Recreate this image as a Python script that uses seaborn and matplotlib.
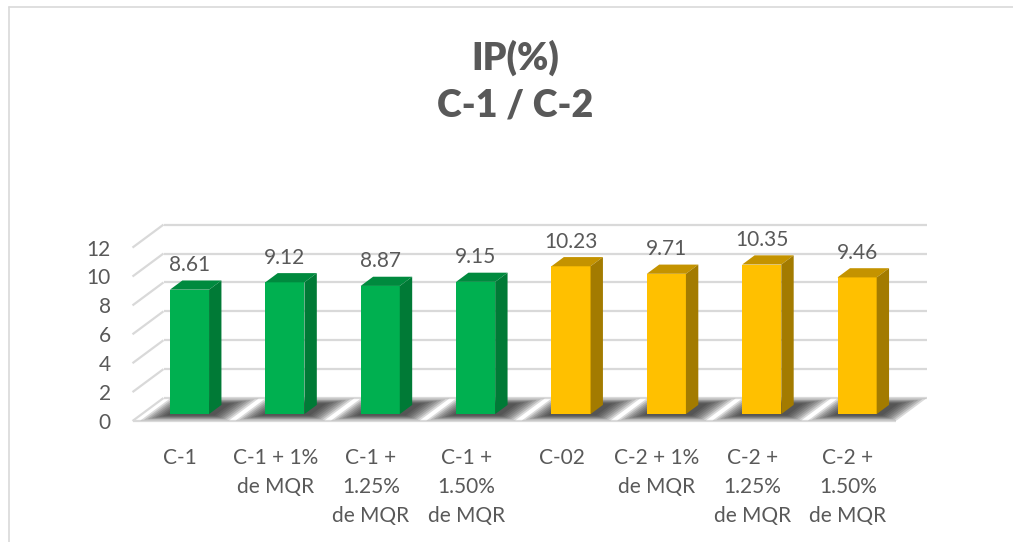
import matplotlib
matplotlib.use("Agg")
import matplotlib.pyplot as plt
from matplotlib.patches import Polygon
from matplotlib.lines import Line2D
import seaborn as sns
import pandas as pd

# Data
categories = ["C-1", "C-1 + 1%\nde MQR", "C-1 +\n1.25%\nde MQR", "C-1 +\n1.50%\nde MQR",
              "C-02", "C-2 + 1%\nde MQR", "C-2 +\n1.25%\nde MQR", "C-2 +\n1.50%\nde MQR"]
values = [8.61, 9.12, 8.87, 9.15, 10.23, 9.71, 10.35, 9.46]
groups = ["C-1", "C-1", "C-1", "C-1", "C-2", "C-2", "C-2", "C-2"]
y_ticks = [0, 2, 4, 6, 8, 10, 12]
title = "IP(%)\nC-1 / C-2"

# Face colours: front, top, side
front = {"C-1": "#00B050", "C-2": "#FFC000"}
top = {"C-1": "#008A3E", "C-2": "#C49300"}
side = {"C-1": "#007A36", "C-2": "#A37B00"}
text_col = "#595959"
grid_col = "#D9D9D9"

sns.set_theme(style="white")
plt.rcParams["font.family"] = ["Lato", "DejaVu Sans"]

W, H = 1013, 542
fig = plt.figure(figsize=(W / 100, H / 100), dpi=100)
fig.patch.set_facecolor("white")

# Axes spans the front plane of the floor
x0_px, x1_px = 132.5, 895.5
y0_px, ppu = 421.0, 14.45
ax = fig.add_axes([x0_px / W, (H - y0_px) / H, (x1_px - x0_px) / W, 12 * ppu / H])
ax.set_xlim(-0.5, 7.5)
ax.set_ylim(0, 12)
ax.set_facecolor("none")
for s in ax.spines.values():
    s.set_visible(False)

# Oblique depth (full floor depth) in data units
cat_px = (x1_px - x0_px) / 8
DX = 31.0 / cat_px
DY = 23.0 / ppu
D0, D1 = 0.3, 0.7  # bar depth range

# Back wall and side wall gridlines
for v in y_ticks:
    ax.plot([-0.5 + DX, 7.5 + DX], [v + DY, v + DY], color=grid_col, lw=1.6,
            clip_on=False, zorder=0, solid_capstyle="butt")
    ax.plot([-0.5, -0.5 + DX], [v, v + DY], color=grid_col, lw=1.6,
            clip_on=False, zorder=0, solid_capstyle="butt")
# Front edge of the floor
ax.plot([-0.5, 7.5], [0, 0], color=grid_col, lw=1.6, clip_on=False, zorder=0,
        solid_capstyle="butt")

df = pd.DataFrame({"cat": categories, "val": values, "grp": groups})
sns.barplot(data=df, x="cat", y="val", hue="grp", palette=front, order=categories,
            dodge=False, width=0.41, saturation=1, legend=False, linewidth=0, ax=ax)

grp_of = dict(zip(categories, groups))
for p in list(ax.patches):
    h = p.get_height()
    if h <= 0:
        continue
    bx0 = p.get_x() + D0 * DX
    bx1 = bx0 + p.get_width()
    by0 = D0 * DY
    by1 = by0 + h
    p.set_x(bx0)
    p.set_y(by0)
    p.set_zorder(3)
    ci = int(round(p.get_x() - D0 * DX + p.get_width() / 2))
    g = grp_of[categories[ci]]
    ddx, ddy = (D1 - D0) * DX, (D1 - D0) * DY

    # soft floor shadow under the bar
    n = 8
    for k in range(n):
        t = k / (n - 1)
        ex_l = 0.22 - 0.2 * t
        ex_r = 0.30 - 0.22 * t
        d_a = 0.02 + 0.22 * t
        d_b = 0.98 - 0.22 * t
        sx0, sx1 = bx0 - D0 * DX - ex_l, bx1 - D0 * DX + ex_r
        pts = [(sx0 + d_a * DX, d_a * DY), (sx1 + d_a * DX, d_a * DY),
               (sx1 + d_b * DX, d_b * DY), (sx0 + d_b * DX, d_b * DY)]
        ax.add_patch(Polygon(pts, closed=True, facecolor="#262626", edgecolor="none",
                             alpha=0.17, zorder=1, clip_on=False))

    ax.add_patch(Polygon([(bx0, by1), (bx1, by1), (bx1 + ddx, by1 + ddy), (bx0 + ddx, by1 + ddy)],
                         closed=True, facecolor=top[g], edgecolor="none", zorder=3, clip_on=False))
    ax.add_patch(Polygon([(bx1, by0), (bx1 + ddx, by0 + ddy), (bx1 + ddx, by1 + ddy), (bx1, by1)],
                         closed=True, facecolor=side[g], edgecolor="none", zorder=3, clip_on=False))

    ax.annotate(f"{h:.2f}", xy=((bx0 + bx1) / 2, by1), xytext=(0, 17.6),
                textcoords="offset points", ha="center", va="center",
                fontsize=15, color=text_col, zorder=5, annotation_clip=False)

ax.set_xlabel("")
ax.set_ylabel("")
ax.set_yticks(y_ticks)
ax.set_yticklabels([str(v) for v in y_ticks])
ax.tick_params(axis="y", length=0, pad=15.5, labelsize=15, labelcolor=text_col)
ax.tick_params(axis="x", length=0, pad=19.5, labelsize=15, labelcolor=text_col)
for lab in ax.get_xticklabels():
    lab.set_linespacing(1.55)

fig.text(515 / W, 1 - 81 / H, title, ha="center", va="center", fontsize=27,
         fontweight="heavy", color=text_col, linespacing=1.45)

# Chart frame (top and left edges)
fig.add_artist(Line2D([9 / W, 9 / W], [0, 1 - 7 / H], color=grid_col, lw=1.2))
fig.add_artist(Line2D([9 / W, 1], [1 - 7 / H, 1 - 7 / H], color=grid_col, lw=1.2))

fig.savefig("out.png", dpi=100, facecolor="white")
